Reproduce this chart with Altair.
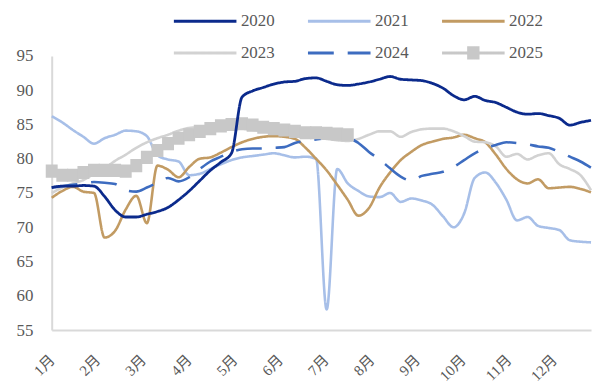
import altair as alt
import pandas as pd

years = ["2020", "2021", "2022", "2023", "2024", "2025"]
colors = ["#0b2a8c", "#a7bfe8", "#c29b63", "#d2d2d2", "#3d6cc0", "#c8c8c8"]
dashes = [[1, 0], [1, 0], [1, 0], [1, 0], [26, 14], [1, 0]]
LINE = "M-1,0H1"
LINE_SQ = "M-1,0H1M-0.15,-0.165H0.15V0.165H-0.15Z"
shapes = [LINE, LINE, LINE, LINE, LINE, LINE_SQ]

month_labels = ["1月", "2月", "3月", "4月", "5月", "6月", "7月", "8月", "9月", "10月", "11月", "12月"]
month_ticks = [round(1 + 4.319 * i, 3) for i in range(12)]
y_ticks = [55, 60, 65, 70, 75, 80, 85, 90, 95]

v2020 = [75.8, 76.0, 76.0, 76.1, 76.0, 74.5, 72.5, 71.5, 71.5, 71.9,
         72.3, 72.9, 74.0, 75.3, 76.8, 78.3, 79.5, 80.8, 89.0, 89.9,
         90.4, 90.9, 91.2, 91.3, 91.7, 91.8, 91.3, 90.8, 90.7, 90.9,
         91.2, 91.6, 92.0, 91.6, 91.5, 91.4, 91.0, 90.3, 89.2, 88.6,
         89.1, 88.5, 88.2, 87.5, 86.8, 86.5, 86.6, 86.3, 85.9, 84.9,
         85.3, 85.6]
v2021 = [86.2, 85.3, 84.2, 83.2, 82.2, 83.0, 83.5, 84.1, 84.0, 83.3,
         80.5, 79.9, 79.6, 77.6, 77.8, 78.5, 79.2, 79.8, 80.2, 80.4,
         80.6, 80.8, 80.5, 80.2, 80.3, 80.0, 58.0, 78.5, 76.4, 75.3,
         74.5, 74.4, 75.0, 73.7, 74.2, 73.9, 73.3, 71.6, 70.0, 72.0,
         77.2, 78.0, 76.5, 74.0, 71.0, 71.5, 70.2, 69.9, 69.6, 68.1,
         67.9, 67.8]
v2022 = [74.3, 75.3, 75.9, 75.2, 75.0, 68.5, 69.5, 72.6, 74.6, 70.6,
         79.0, 78.4, 77.3, 78.8, 80.0, 80.2, 80.9, 81.7, 82.4, 82.9,
         83.2, 83.3, 83.2, 82.9, 81.6, 80.0, 78.3, 76.2, 74.0, 71.7,
         72.8, 75.8, 78.0, 79.8, 81.0, 82.0, 82.5, 82.9, 83.1, 83.5,
         83.0, 82.4, 80.6, 78.5, 77.0, 76.4, 77.0, 75.7, 75.8, 75.9,
         75.6, 75.1]
v2023 = [75.0, 75.8, 76.4, 76.9, 77.8, 78.6, 79.7, 80.6, 81.6, 82.4,
         83.0, 83.5, 84.1, 84.5, 84.6, 84.7, 84.6, 84.5, 84.4, 84.2,
         84.0, 83.8, 83.6, 83.4, 83.3, 83.1, 82.9, 82.7, 82.6, 82.9,
         83.5, 84.0, 84.0, 83.2, 83.9, 84.3, 84.4, 84.4, 84.0, 83.3,
         82.5, 82.4, 81.8, 80.3, 80.7, 79.9, 80.5, 80.8, 79.2, 78.5,
         77.6, 75.4]
v2024 = [75.8, 76.0, 76.2, 76.4, 76.6, 76.5, 76.3, 75.4, 75.2, 75.8,
         76.5, 77.2, 76.7, 77.3, 78.5, 79.6, 80.3, 81.0, 81.4, 81.5,
         81.5, 81.6, 81.7, 82.3, 82.6, 82.8, 83.0, 83.0, 83.0, 82.3,
         81.0, 79.9, 78.6, 77.4, 76.8, 77.5, 77.8, 78.1, 78.8, 79.8,
         80.8, 81.5, 82.0, 82.4, 82.3, 82.1, 81.8, 81.6, 81.0, 80.3,
         79.6, 78.7]
v2025 = [78.2, 77.6, 77.6, 78.0, 78.3, 78.3, 78.3, 78.2, 79.0, 80.2,
         81.2, 82.2, 83.0, 83.5, 84.0, 84.4, 84.8, 85.0, 85.1, 84.9,
         84.6, 84.4, 84.2, 84.0, 83.8, 83.8, 83.7, 83.6, 83.5]

series = [v2020, v2021, v2022, v2023, v2024, v2025]
rows = []
for yr, vals in zip(years, series):
    for i, v in enumerate(vals):
        rows.append({"year": yr, "week": i + 1, "value": v})
df = pd.DataFrame(rows)

FONT = "Liberation Serif, Noto Sans CJK SC"
TXT = "#595959"

legend = alt.Legend(
    title=None, orient="none", legendX=121.5, legendY=-45,
    direction="horizontal", columns=3, symbolSize=3969, symbolStrokeWidth=3,
    symbolFillColor="#c8c8c8", labelFont=FONT, labelFontSize=17,
    labelColor=TXT, labelOffset=3, columnPadding=32, rowPadding=12,
    padding=0, clipHeight=20, labelLimit=200,
)

color_scale = alt.Scale(domain=years, range=colors)
dash_scale = alt.Scale(domain=years, range=dashes)
shape_scale = alt.Scale(domain=years, range=shapes)

x_enc = alt.X(
    "week:Q",
    scale=alt.Scale(domain=[1, 52], nice=False, zero=False),
    axis=alt.Axis(
        title=None, values=month_ticks, grid=False, ticks=False,
        labelExpr="(round((datum.value - 1) / 4.319) + 1) + '月'",
        labelAngle=-45, labelAlign="right", labelBaseline="middle",
        labelPadding=27, labelFont=FONT, labelFontSize=15, labelColor=TXT,
        labelFlush=False, labelOverlap=False,
        domainColor="#d9d9d9", domainWidth=2,
    ),
)
y_enc = alt.Y(
    "value:Q",
    scale=alt.Scale(domain=[55, 95], nice=False, zero=False),
    axis=alt.Axis(
        title=None, values=y_ticks, grid=False, ticks=False,
        labelFont=FONT, labelFontSize=17, labelColor=TXT, labelPadding=19,
        domainColor="#d9d9d9", domainWidth=2,
    ),
)

base = alt.Chart(df)

lines_other = base.transform_filter("datum.year != '2020'").mark_line(
    interpolate="monotone", strokeWidth=2.6
).encode(
    x=x_enc, y=y_enc,
    color=alt.Color("year:N", scale=color_scale, legend=legend),
    strokeDash=alt.StrokeDash("year:N", scale=dash_scale, legend=legend),
)

points_2025 = base.transform_filter("datum.year == '2025'").mark_point(
    filled=True, size=6400, opacity=1, color="#c8c8c8"
).encode(
    x=x_enc, y=y_enc,
    shape=alt.Shape("year:N", scale=shape_scale, legend=legend),
)

line_2020 = base.transform_filter("datum.year == '2020'").mark_line(
    interpolate="monotone", strokeWidth=2.8
).encode(
    x=x_enc, y=y_enc,
    color=alt.Color("year:N", scale=color_scale, legend=legend),
    strokeDash=alt.StrokeDash("year:N", scale=dash_scale, legend=legend),
)

chart = alt.layer(lines_other, points_2025, line_2020).properties(
    width=543, height=276,
    autosize=alt.AutoSizeParams(type="none"),
    padding={"left": 44, "top": 47, "right": 4, "bottom": 52},
).configure_view(strokeWidth=0)

chart.save("out.html", embed_options={"renderer": "svg", "actions": False})
